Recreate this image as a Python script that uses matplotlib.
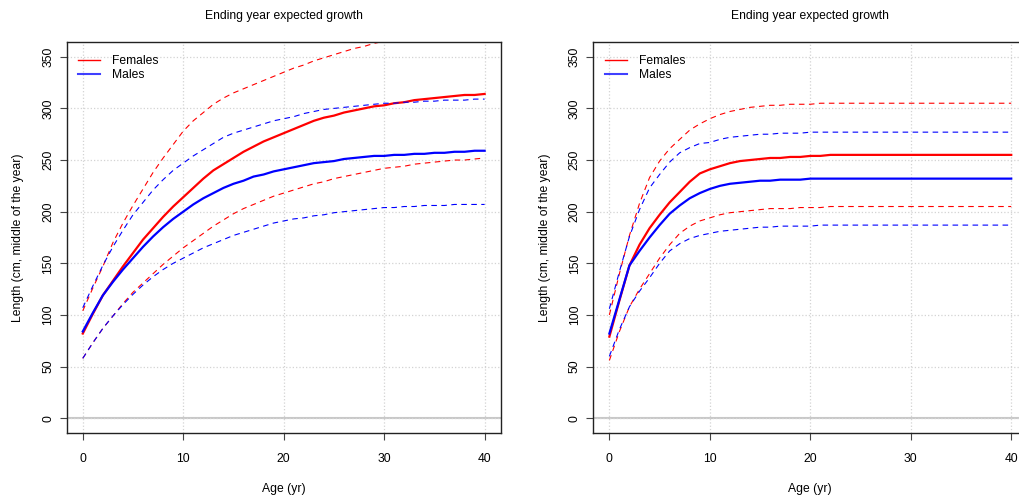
import matplotlib
matplotlib.use("Agg")
import matplotlib.pyplot as plt
from matplotlib.lines import Line2D

plt.rcParams['font.family'] = ['Liberation Sans', 'DejaVu Sans']
plt.rcParams['font.size'] = 8.7

ages = list(range(41))

# left panel: slow growth
fem_mid_l = [82, 101, 119, 133, 147, 160, 173, 184, 195, 205, 214, 223, 232, 240, 246, 252, 258, 263, 268, 272,
             276, 280, 284, 288, 291, 293, 296, 298, 300, 302, 303, 305, 306, 308, 309, 310, 311, 312, 313, 313, 314]
fem_hi_l = [104, 126, 147, 170, 189, 206, 222, 238, 252, 265, 278, 288, 296, 304, 310, 315, 319, 323, 327, 331,
            335, 339, 342, 346, 349, 352, 355, 358, 360, 363, 365, 367, 369, 370, 372, 373, 374, 375, 376, 377, 378]
fem_lo_l = [58, 73, 87, 99, 111, 122, 131, 140, 149, 157, 165, 172, 179, 186, 192, 198, 203, 207, 211, 215,
            218, 221, 224, 227, 229, 232, 234, 236, 238, 240, 242, 243, 244, 246, 247, 248, 249, 250, 250, 251, 252]
mal_mid_l = [84, 102, 119, 132, 144, 155, 166, 176, 185, 193, 200, 207, 213, 218, 223, 227, 230, 234, 236, 239,
             241, 243, 245, 247, 248, 249, 251, 252, 253, 254, 254, 255, 255, 256, 256, 257, 257, 258, 258, 259, 259]
mal_hi_l = [107, 128, 148, 166, 182, 197, 209, 221, 231, 240, 247, 254, 260, 266, 272, 276, 279, 282, 285, 288,
            290, 292, 295, 297, 299, 300, 301, 302, 303, 304, 305, 305, 306, 306, 307, 307, 308, 308, 308, 309, 309]
mal_lo_l = [58, 73, 87, 99, 110, 120, 129, 137, 144, 150, 155, 160, 165, 169, 173, 177, 180, 183, 186, 189,
            191, 193, 194, 196, 197, 199, 200, 201, 202, 203, 204, 204, 205, 205, 206, 206, 206, 207, 207, 207, 207]

# right panel: fast growth, early plateau
fem_mid_r = [79, 114, 148, 168, 184, 197, 209, 219, 229, 237, 241, 244, 247, 249, 250, 251, 252, 252, 253, 253,
             254, 254, 255, 255, 255, 255, 255, 255, 255, 255, 255, 255, 255, 255, 255, 255, 255, 255, 255, 255, 255]
fem_hi_r = [100, 140, 177, 208, 233, 249, 261, 270, 279, 285, 290, 294, 297, 299, 301, 302, 303, 303, 304, 304,
            304, 305, 305, 305, 305, 305, 305, 305, 305, 305, 305, 305, 305, 305, 305, 305, 305, 305, 305, 305, 305]
fem_lo_r = [56, 84, 108, 125, 140, 155, 168, 179, 186, 191, 194, 197, 199, 200, 201, 202, 203, 203, 203, 204,
            204, 204, 205, 205, 205, 205, 205, 205, 205, 205, 205, 205, 205, 205, 205, 205, 205, 205, 205, 205, 205]
mal_mid_r = [82, 115, 148, 162, 175, 187, 198, 206, 213, 218, 222, 225, 227, 228, 229, 230, 230, 231, 231, 231,
             232, 232, 232, 232, 232, 232, 232, 232, 232, 232, 232, 232, 232, 232, 232, 232, 232, 232, 232, 232, 232]
mal_hi_r = [106, 142, 176, 202, 223, 236, 248, 257, 262, 266, 267, 270, 272, 273, 274, 275, 275, 276, 276, 276,
            277, 277, 277, 277, 277, 277, 277, 277, 277, 277, 277, 277, 277, 277, 277, 277, 277, 277, 277, 277, 277]
mal_lo_r = [60, 86, 108, 123, 136, 150, 162, 169, 174, 177, 179, 181, 182, 183, 184, 185, 185, 186, 186, 186,
            186, 187, 187, 187, 187, 187, 187, 187, 187, 187, 187, 187, 187, 187, 187, 187, 187, 187, 187, 187, 187]

panels = [
    (fem_mid_l, fem_hi_l, fem_lo_l, mal_mid_l, mal_hi_l, mal_lo_l),
    (fem_mid_r, fem_hi_r, fem_lo_r, mal_mid_r, mal_hi_r, mal_lo_r),
]

RED = '#FF0000'
BLUE = '#0000FF'
dash = (0, (5, 4))

W, H = 1019, 500
fig = plt.figure(figsize=(W / 100, H / 100), dpi=100)

ax_w = 434 / W
ax_h = 390.4 / H
lefts = [66.7 / W, 593.3 / W]
bottom = 1 - 432.7 / H

for left, (fm, fh, fl, mm, mh, ml) in zip(lefts, panels):
    ax = fig.add_axes([left, bottom, ax_w, ax_h])
    ax.set_xlim(-1.6, 41.6)
    ax.set_ylim(-14, 364)
    ax.set_xticks([0, 10, 20, 30, 40])
    ax.set_yticks([0, 50, 100, 150, 200, 250, 300, 350])
    ax.grid(True, color='#D3D3D3', linestyle=':', linewidth=0.9)
    ax.axhline(0, color='#C8C8C8', linewidth=1.5, zorder=1)

    for lo, hi, mid, col in [(fl, fh, fm, RED), (ml, mh, mm, BLUE)]:
        ax.plot(ages, hi, color=col, linestyle=dash, linewidth=0.8)
        ax.plot(ages, lo, color=col, linestyle=dash, linewidth=0.8)
        ax.plot(ages, mid, color=col, linewidth=1.6)

    for sp in ax.spines.values():
        sp.set_color('#222222')
        sp.set_linewidth(1.0)
    ax.tick_params(axis='both', direction='out', length=5, width=0.8, color='#444444')
    ax.tick_params(axis='x', pad=9.5)
    ax.tick_params(axis='y', pad=4, labelrotation=90)
    for lab in ax.get_yticklabels():
        lab.set_va('center')

    ax.set_title('Ending year expected growth', fontsize=8.7, pad=16.5)
    ax.set_xlabel('Age (yr)')
    ax.set_ylabel('Length (cm, middle of the year)')
    ax.xaxis.set_label_coords(0.5, -0.1435)
    ax.xaxis.label.set_va('center')
    ax.yaxis.set_label_coords(-0.112, 0.5)
    ax.yaxis.label.set_va('center')

    handles = [Line2D([], [], color=RED, linewidth=1.0),
               Line2D([], [], color=BLUE, linewidth=1.5, alpha=0.75)]
    ax.legend(handles, ['Females', 'Males'], loc='upper left', frameon=False,
              bbox_to_anchor=(11.3 / 434, 1 - 13 / 390.4), borderpad=0, borderaxespad=0,
              handlelength=1.82, handletextpad=1.0, labelspacing=0.15)

fig.savefig('out.png', dpi=100)
